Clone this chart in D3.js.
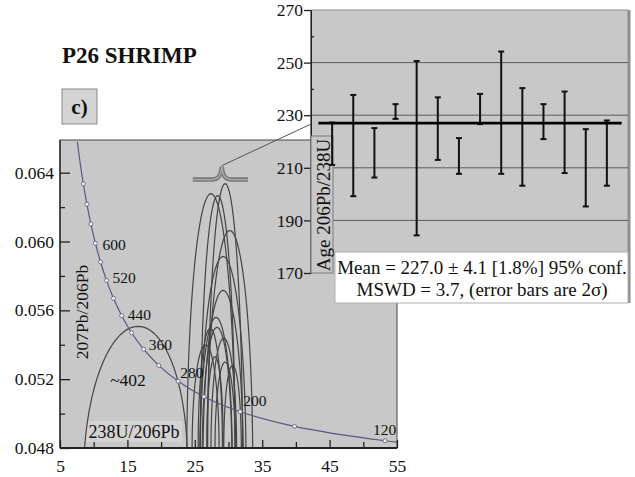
<!DOCTYPE html>
<html>
<head>
<meta charset="utf-8">
<script src="https://cdn.jsdelivr.net/npm/d3@7"></script>
<style>
body { margin: 0; background: #fff; }
text { font-family: "Liberation Serif", "Times New Roman", serif; fill: #111; }
</style>
</head>
<body>
<svg id="chart" width="635" height="477"></svg>
<script>
// concordia curve, read at 40 Ma steps (238U/206Pb, 207Pb/206Pb)
const concAges = [800, 760, 720, 680, 640, 600, 560, 520, 480, 440, 400, 360, 320, 280, 240, 200, 160, 120, 110];
const concX = [7.568, 7.992, 8.463, 8.989, 9.581, 10.252, 11.019, 11.904, 12.936, 14.157, 15.621, 17.411, 19.649, 22.527, 26.363, 31.735, 39.79, 53.22, 58.10];
const concY = [0.0658, 0.06456, 0.06335, 0.06217, 0.06102, 0.05990, 0.05881, 0.05774, 0.05670, 0.05569, 0.05470, 0.05374, 0.05280, 0.05188, 0.05098, 0.05011, 0.04926, 0.04842, 0.04822];
const markAges = [720, 680, 640, 600, 560, 520, 480, 440, 400, 360, 320, 280, 240, 200, 160, 120];
const labelAges = [600, 520, 440, 360, 280, 200, 120];

// error ellipses: centre, half-widths, correlation
const ellCx  = [27.4, 29.5, 28.4, 30.2, 29.2, 29.2, 28.15, 28.3, 29.3, 29.5, 27.3, 26.6, 28.0, 30.6, 16.2];
const ellCy  = [0.047, 0.047, 0.047, 0.047, 0.047, 0.047, 0.0475, 0.0475, 0.048, 0.048, 0.048, 0.048, 0.0485, 0.048, 0.0468];
const ellSx  = [3.6, 2.6, 2.6, 3.4, 3.4, 3.0, 2.4, 2.2, 1.9, 1.5, 1.8, 2.0, 1.2, 1.3, 7.7];
const ellSy  = [0.01578, 0.01636, 0.01567, 0.01364, 0.01213, 0.01016, 0.00809, 0.00751, 0.00638, 0.00499, 0.00696, 0.0060, 0.0048, 0.0048, 0.00827];
const ellRho = [0, 0, 0, 0, 0, 0, 0, 0, 0, 0, 0, 0, 0, 0, 0.05];

// weighted mean inset: 2 sigma limits of 206Pb/238U ages
const spotLow  = [211.1, 199.2, 206.3, 228.6, 184.3, 213.0, 207.7, 226.6, 207.7, 203.2, 220.9, 208.0, 195.3, 203.2];
const spotHigh = [227.2, 237.7, 225.1, 234.2, 250.6, 236.8, 221.3, 238.1, 254.2, 240.3, 234.2, 239.0, 224.7, 228.0];
const meanAge = 227.0;

const xTicks = [5, 15, 25, 35, 45, 55];
const xMinor = [10, 20, 30, 40, 50];
const yTicks = [0.048, 0.052, 0.056, 0.060, 0.064];
const yMinor = [0.050, 0.054, 0.058, 0.062];
const ageTicks = [170, 190, 210, 230, 250, 270];
const ageMinor = [180, 200, 220, 240, 260];
const gridAges = [190, 210, 230, 250];

const svg = d3.select("#chart");
const plotFill = "#c8c8c8";

// ---- main concordia plot
const x = d3.scaleLinear().domain([5, 55]).range([60, 397]);
const y = d3.scaleLinear().domain([0.048, 0.0659]).range([448, 140]);

svg.append("defs").append("clipPath").attr("id", "clip")
  .append("rect").attr("x", 60).attr("y", 140).attr("width", 337).attr("height", 308);

svg.append("rect").attr("x", 60).attr("y", 140).attr("width", 337).attr("height", 308)
  .attr("fill", plotFill).attr("stroke", "#444").attr("stroke-width", 1);

// label backdrop for x title
svg.append("rect").attr("x", 86).attr("y", 421).attr("width", 96).attr("height", 21)
  .attr("fill", "#d3d3d3");

const plot = svg.append("g").attr("clip-path", "url(#clip)");

const ellLine = d3.line().curve(d3.curveLinearClosed);
ellCx.forEach((cx, i) => {
  const pts = d3.range(0, 360, 3).map(a => {
    const t = a * Math.PI / 180;
    const r = ellRho[i];
    return [x(cx + ellSx[i] * Math.cos(t)),
            y(ellCy[i] + ellSy[i] * (r * Math.cos(t) + Math.sqrt(1 - r * r) * Math.sin(t)))];
  });
  plot.append("path").attr("d", ellLine(pts))
    .attr("fill", "none").attr("stroke", "#444").attr("stroke-width", 1.2);
});

const conc = concAges.map((a, i) => ({ age: a, x: concX[i], y: concY[i] }));
plot.append("path")
  .datum(conc)
  .attr("d", d3.line().x(d => x(d.x)).y(d => y(d.y)).curve(d3.curveCatmullRom))
  .attr("fill", "none").attr("stroke", "#575a80").attr("stroke-width", 1.2);

plot.selectAll(".mk").data(conc.filter(d => markAges.includes(d.age)))
  .enter().append("circle")
  .attr("cx", d => x(d.x)).attr("cy", d => y(d.y)).attr("r", 2)
  .attr("fill", "#f4f4f4").attr("stroke", "#575a80").attr("stroke-width", 0.8);

const labOff = { 600: [7, 7], 520: [6, 3], 440: [6, 4], 360: [5, 1], 280: [2, -3], 200: [3, -6], 120: [-12, -6] };
svg.selectAll(".cl").data(conc.filter(d => labelAges.includes(d.age)))
  .enter().append("text")
  .attr("x", d => x(d.x) + labOff[d.age][0]).attr("y", d => y(d.y) + labOff[d.age][1])
  .attr("font-size", 15.5).text(d => d.age);

// axes
svg.append("g").attr("transform", "translate(0,448)")
  .call(d3.axisBottom(x).tickValues(xTicks).tickSizeInner(-8).tickSizeOuter(0).tickPadding(12));
svg.append("g").attr("transform", "translate(0,448)")
  .call(d3.axisBottom(x).tickValues(xMinor).tickSizeInner(-6).tickSizeOuter(0).tickFormat(""));
svg.append("g").attr("transform", "translate(60,0)")
  .call(d3.axisLeft(y).tickValues(yTicks).tickSizeInner(-10).tickSizeOuter(0).tickPadding(6).tickFormat(d3.format(".3f")));
svg.append("g").attr("transform", "translate(60,0)")
  .call(d3.axisLeft(y).tickValues(yMinor).tickSizeInner(-5).tickSizeOuter(0).tickFormat(""));
svg.selectAll(".domain").remove();
svg.selectAll(".tick line").attr("stroke", "#222").attr("stroke-width", 1.3);
svg.selectAll(".tick text").attr("font-size", 17.5).attr("font-family", "Liberation Serif").attr("fill", "#111");

svg.append("line").attr("x1", 60).attr("x2", 397).attr("y1", 448).attr("y2", 448)
  .attr("stroke", "#222").attr("stroke-width", 2);
svg.append("line").attr("x1", 60).attr("x2", 60).attr("y1", 140).attr("y2", 448)
  .attr("stroke", "#222").attr("stroke-width", 1.3);

svg.append("text").attr("transform", "translate(88,312) rotate(-90)")
  .attr("text-anchor", "middle").attr("font-size", 17.5).text("207Pb/206Pb");
svg.append("text").attr("x", 134).attr("y", 438)
  .attr("text-anchor", "middle").attr("font-size", 18).text("238U/206Pb");
svg.append("text").attr("x", 128).attr("y", 386)
  .attr("text-anchor", "middle").attr("font-size", 17.5).text("~402");

// brace over the cluster
const bl = x(24.7), br = x(32.9), bt = x(29.0), by = y(0.0636), ty = y(0.06435);
const brace = `M${bl},${by} L${bt - 10},${by} C${bt - 4},${by} ${bt - 1},${by - 3} ${bt},${ty} ` +
              `C${bt + 1},${by - 3} ${bt + 4},${by} ${bt + 10},${by} L${br},${by}`;
svg.append("path").attr("d", brace).attr("fill", "none").attr("stroke", "#7a7a7a").attr("stroke-width", 4.5);
svg.append("path").attr("d", brace).attr("fill", "none").attr("stroke", "#aaaaaa").attr("stroke-width", 1.4);

// ---- inset weighted mean plot
const xi = d3.scaleLinear().domain([0, 15]).range([311, 628]);
const yi = d3.scaleLinear().domain([170, 270]).range([273, 10]);

svg.append("line").attr("x1", bt).attr("y1", ty - 1).attr("x2", xi(0.1)).attr("y2", yi(meanAge))
  .attr("stroke", "#555").attr("stroke-width", 1);

svg.append("rect").attr("x", 311).attr("y", 10).attr("width", 317).attr("height", 263)
  .attr("fill", plotFill);
svg.append("line").attr("x1", 311).attr("x2", 628).attr("y1", 10).attr("y2", 10)
  .attr("stroke", "#8a8a8a").attr("stroke-width", 1);
svg.append("line").attr("x1", 629).attr("x2", 629).attr("y1", 10).attr("y2", 303)
  .attr("stroke", "#8e8e8e").attr("stroke-width", 3);

svg.selectAll(".grid").data(gridAges).enter().append("line")
  .attr("x1", 311).attr("x2", 628).attr("y1", d => yi(d)).attr("y2", d => yi(d))
  .attr("stroke", "#5c5c5c").attr("stroke-width", 1);

const axI = svg.append("g").attr("transform", "translate(311,0)")
  .call(d3.axisLeft(yi).tickValues(ageTicks).tickSizeInner(7).tickSizeOuter(0).tickPadding(1));
svg.append("g").attr("transform", "translate(311,0)")
  .call(d3.axisLeft(yi).tickValues(ageMinor).tickSizeInner(-3).tickSizeOuter(0).tickFormat(""));
axI.select(".domain").remove();
svg.selectAll(".tick line").attr("stroke", "#222").attr("stroke-width", 1.3);
axI.selectAll(".tick text").attr("font-size", 17.5).attr("font-family", "Liberation Serif").attr("fill", "#111");
svg.append("line").attr("x1", 311).attr("x2", 311).attr("y1", 10).attr("y2", 273)
  .attr("stroke", "#333").attr("stroke-width", 1.3);

// y-title box
svg.append("rect").attr("x", 311).attr("y", 136).attr("width", 22).attr("height", 137)
  .attr("fill", plotFill).attr("stroke", "#7a7a7a").attr("stroke-width", 1);
svg.append("text").attr("transform", "translate(330,205) rotate(-90)")
  .attr("text-anchor", "middle").attr("font-size", 19).text("Age 206Pb/238U");

const bars = svg.append("g");
spotLow.forEach((lo, i) => {
  const cx = xi(i + 1);
  bars.append("line").attr("x1", cx).attr("x2", cx).attr("y1", yi(lo)).attr("y2", yi(spotHigh[i]))
    .attr("stroke", "#111").attr("stroke-width", 2);
  [lo, spotHigh[i]].forEach(v => bars.append("line")
    .attr("x1", cx - 3).attr("x2", cx + 3).attr("y1", yi(v)).attr("y2", yi(v))
    .attr("stroke", "#111").attr("stroke-width", 2));
});
svg.append("line").attr("x1", xi(0.35)).attr("x2", xi(14.7)).attr("y1", yi(meanAge)).attr("y2", yi(meanAge))
  .attr("stroke", "#000").attr("stroke-width", 2.8);

svg.append("rect").attr("x", 335).attr("y", 252).attr("width", 293).attr("height", 51)
  .attr("fill", "#fff").attr("stroke", "#b0b0b0").attr("stroke-width", 1);
svg.append("text").attr("x", 482).attr("y", 274).attr("text-anchor", "middle").attr("font-size", 19)
  .text("Mean = 227.0 ± 4.1 [1.8%] 95% conf.");
svg.append("text").attr("x", 482).attr("y", 296).attr("text-anchor", "middle").attr("font-size", 19)
  .text("MSWD = 3.7, (error bars are 2σ)");

// ---- title and panel tag
svg.append("text").attr("x", 62).attr("y", 63).attr("font-size", 23).attr("font-weight", "bold")
  .text("P26 SHRIMP");
svg.append("rect").attr("x", 62).attr("y", 89).attr("width", 35).attr("height", 35)
  .attr("fill", "#d4d4d4").attr("stroke", "#8a8a8a").attr("stroke-width", 1);
svg.append("text").attr("x", 79.5).attr("y", 114).attr("text-anchor", "middle")
  .attr("font-size", 21).attr("font-weight", "bold").text("c)");
</script>
</body>
</html>
